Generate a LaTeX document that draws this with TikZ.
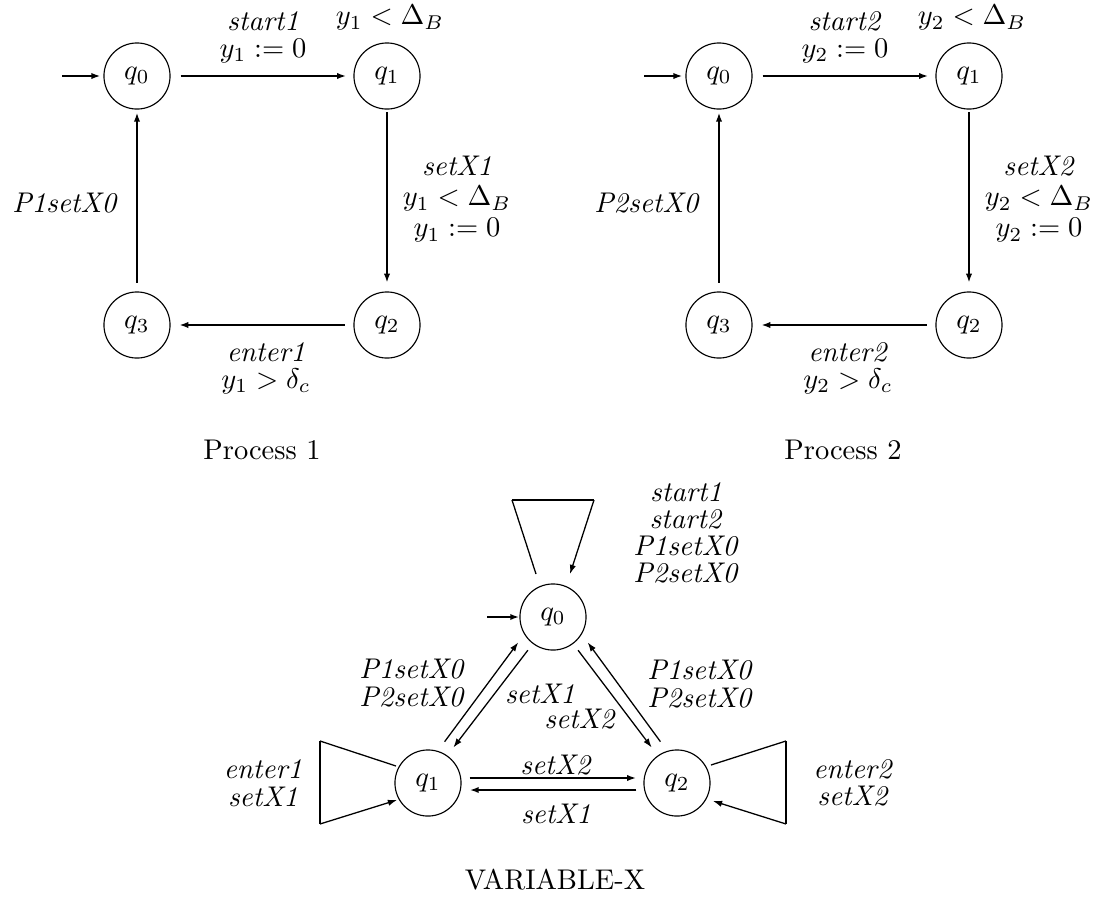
\documentclass[tikz,border=0pt]{standalone}
\usetikzlibrary{arrows.meta,calc}
\begin{document}
\begin{tikzpicture}[x=0.351pt,y=-0.351pt,
  st/.style={circle,draw,line width=0.4pt,minimum size=23.2pt,inner sep=0pt},
  tip/.style={-{Latex[length=3.2pt,width=2.2pt]}},
  tr/.style={tip,line width=0.7pt},
  thinln/.style={line width=0.45pt},
  barln/.style={line width=0.8pt},
  lbl/.style={inner sep=0pt,align=center},
  two/.style={lbl,font=\linespread{0.8}\selectfont},
  three/.style={lbl,font=\linespread{0.9}\selectfont}]
\useasboundingbox (0,0) rectangle (1098,899);

% ---------- Process 1 ----------
\node[st] (a0) at (137,76) {$q_0$};
\node[st] (a1) at (387,76) {$q_1$};
\node[st] (a2) at (387,325) {$q_2$};
\node[st] (a3) at (137,325) {$q_3$};
\coordinate (ai) at (62,76);
\draw[tr,shorten >=1pt] (ai) -- (a0);
\draw[tr,shorten <=3.5pt,shorten >=2.5pt] (a0) -- (a1);
\draw[tr,shorten <=1pt,shorten >=3pt] (a1) -- (a2);
\draw[tr,shorten <=3pt,shorten >=3pt] (a2) -- (a3);
\draw[tr,shorten <=3pt,shorten >=1pt] (a3) -- (a0);
\node[two] (la01) at (263,37) {\textit{start1}\\$y_1 := 0$};
\node[lbl] (la1) at (390,18) {$y_1 < \Delta_B$};
\node[three] (la12) at (457,199) {\textit{setX1}\\$y_1 < \Delta_B$\\$y_1 := 0$};
\node[two] (la23) at (266,368) {\textit{enter1}\\$y_1 > \delta_c$};
\node[lbl,anchor=east] (la30) at (118,203) {\textit{P1setX0}};
\node[lbl] (lp1) at (262,450) {Process 1};

% ---------- Process 2 ----------
\node[st] (b0) at (719,76) {$q_0$};
\node[st] (b1) at (969,76) {$q_1$};
\node[st] (b2) at (969,325) {$q_2$};
\node[st] (b3) at (719,325) {$q_3$};
\coordinate (bi) at (644,76);
\draw[tr,shorten >=1pt] (bi) -- (b0);
\draw[tr,shorten <=3.5pt,shorten >=2.5pt] (b0) -- (b1);
\draw[tr,shorten <=1pt,shorten >=3pt] (b1) -- (b2);
\draw[tr,shorten <=3pt,shorten >=3pt] (b2) -- (b3);
\draw[tr,line width=1.05pt,shorten <=3pt,shorten >=1pt] (b3) -- (b0);
\node[two] (lb01) at (845,37) {\textit{start2}\\$y_2 := 0$};
\node[lbl] (lb1) at (972,18) {$y_2 < \Delta_B$};
\node[three] (lb12) at (1039,199) {\textit{setX2}\\$y_2 < \Delta_B$\\$y_2 := 0$};
\node[two] (lb23) at (848,368) {\textit{enter2}\\$y_2 > \delta_c$};
\node[lbl,anchor=east] (lb30) at (700,203) {\textit{P2setX0}};
\node[lbl] (lp2) at (843,450) {Process 2};

% ---------- VARIABLE-X ----------
\node[st] (v0) at (553,617) {$q_0$};
\node[st] (v1) at (428,783) {$q_1$};
\node[st] (v2) at (677,783) {$q_2$};
\coordinate (vi) at (487,617);
\draw[tr] (vi) -- (v0);
% self loop q0
\coordinate (vt1) at (512,500);
\coordinate (vt2) at (594,500);
\draw[thinln] ($(v0)+(-17,-43)$) -- (vt1);
\draw[barln] (vt1) -- (vt2);
\draw[tip,thinln] (vt2) -- ($(v0)+(17,-43)$);
% q0 <-> q1
\draw[tip,thinln,shorten <=4pt,shorten >=3.5pt] (v1.73) -- (v0.211);
\draw[tip,thinln,shorten <=2.8pt,shorten >=3.5pt] (v0.233) -- (v1.55);
% q0 <-> q2
\draw[tip,thinln,shorten <=4pt,shorten >=3.5pt] (v2.107) -- (v0.329);
\draw[tip,thinln,shorten <=2.8pt,shorten >=3.5pt] (v0.307) -- (v2.125);
% q1 <-> q2
\draw[tr,shorten <=2.8pt,shorten >=2.5pt] ($(v1.east)+(0,-5)$) -- ($(v2.west)+(0,-5)$);
\draw[tip,line width=1pt,shorten <=2.5pt,shorten >=2.8pt] ($(v2.west)+(0,7)$) -- ($(v1.east)+(0,7)$);
% self loop q1
\coordinate (w1a) at (320,741);
\coordinate (w1b) at (320,824);
\draw[thinln] ($(v1)+(-32,-17)$) -- (w1a);
\draw[barln] (w1a) -- (w1b);
\draw[tip,thinln] (w1b) -- ($(v1)+(-31,17)$);
% self loop q2
\coordinate (w2a) at (786,741);
\coordinate (w2b) at (786,824);
\draw[thinln] ($(v2)+(34,-18)$) -- (w2a);
\draw[barln] (w2a) -- (w2b);
\draw[tip,thinln] (w2b) -- ($(v2)+(36,18)$);
% labels
\node[lbl,font=\linespread{0.79}\selectfont] (lv00) at (686,533)
  {\textit{start1}\\\textit{start2}\\\textit{P1setX0}\\\textit{P2setX0}};
\node[two] (lv10) at (412,683) {\textit{P1setX0}\\\textit{P2setX0}};
\node[lbl] (lv01) at (540,694) {\textit{setX1}};
\node[lbl] (lv02) at (580,719) {\textit{setX2}};
\node[two] (lv20) at (700,684) {\textit{P1setX0}\\\textit{P2setX0}};
\node[lbl] (lv12) at (556,765) {\textit{setX2}};
\node[lbl] (lv21) at (556,814) {\textit{setX1}};
\node[two] (lv11) at (263,783) {\textit{enter1}\\\textit{setX1}};
\node[two] (lv22) at (853,783) {\textit{enter2}\\\textit{setX2}};
\node[lbl] (lvx) at (555,880) {VARIABLE-X};
\end{tikzpicture}
\end{document}
